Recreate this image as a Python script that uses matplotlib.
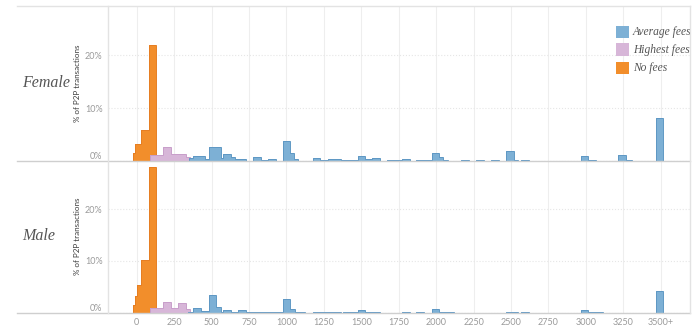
import matplotlib.pyplot as plt
from matplotlib.lines import Line2D
from matplotlib.patches import Rectangle

# ==========================================
# DATA (percent of P2P transactions, step edges in fee units)
# ==========================================
x_ticks = [0, 250, 500, 750, 1000, 1250, 1500, 1750, 2000, 2250, 2500, 2750, 3000, 3250, 3500]
x_labels = ['0', '250', '500', '750', '1000', '1250', '1500', '1750', '2000',
            '2250', '2500', '2750', '3000', '3250', '3500+']
series_names = ['Average fees', 'Highest fees', 'No fees']
panel_names = ['Female', 'Male']

# Female
f_orange_edges = [-25, -10, 30, 80, 128]
f_orange_pct = [1.5, 3.3, 5.9, 21.9]
f_pink_edges = [88, 178, 229, 278, 327, 355]
f_pink_pct = [1.2, 2.6, 1.3, 1.4, 0.75]
f_blue_edges = [350, 375, 425, 455, 480, 560, 575, 627, 655, 730,
                777, 829, 875, 927, 977, 1027, 1050, 1077, 1177, 1227,
                1277, 1365, 1477, 1522, 1572, 1625, 1670, 1772, 1825, 1867,
                1970, 2020, 2047, 2077, 2167, 2220, 2267, 2320, 2367, 2420,
                2467, 2517, 2545, 2567, 2622, 2722, 2910, 2967, 3015, 3067,
                3167, 3217, 3267, 3311, 3367, 3415, 3467, 3517]
f_blue_pct = [0.6, 0.95, 0.9, 0.45, 2.7, 0.6, 1.3, 0.75, 0.3,
              0.05, 0.8, 0.25, 0.35, 0.08, 3.7, 1.45, 0.45, 0.06, 0.5,
              0.1, 0.45, 0.1, 1.0, 0.3, 0.5, 0.05, 0.22, 0.4, 0.0,
              0.1, 1.55, 0.8, 0.28, 0.08, 0.28, 0.08, 0.25, 0.08, 0.25,
              0.08, 1.95, 0.25, 0.05, 0.15, 0.0, 0.08, 0.0, 0.9, 0.25,
              0.0, 0.08, 1.05, 0.2, 0.0, 0.08, 0.0, 8.05]

# Male
m_orange_edges = [-25, -10, 5, 30, 80, 128]
m_orange_pct = [1.4, 3.2, 5.4, 10.2, 28.1]
m_pink_edges = [88, 178, 229, 278, 327, 355]
m_pink_pct = [1.0, 2.0, 0.9, 1.8, 0.75]
m_blue_edges = [345, 377, 429, 482, 529, 560, 578, 627, 677, 729,
                777, 929, 977, 1027, 1055, 1122, 1177, 1227, 1365, 1377,
                1477, 1527, 1627, 1771, 1827, 1867, 1922, 1971, 2022, 2122,
                2467, 2544, 2567, 2622, 2967, 3015, 3115, 3467, 3517]
m_blue_pct = [0.2, 1.0, 0.4, 3.4, 1.15, 0.2, 0.45, 0.15, 0.45,
              0.05, 0.2, 0.05, 2.65, 0.68, 0.12, 0.0, 0.22, 0.1, 0.0,
              0.1, 0.6, 0.15, 0.0, 0.15, 0.0, 0.15, 0.0, 0.7, 0.15,
              0.0, 0.2, 0.0, 0.15, 0.0, 0.45, 0.15, 0.0, 4.2]

# ==========================================
# STYLE
# ==========================================
BLUE, BLUE_EDGE = '#7db0d5', '#5f98c4'
PINK, PINK_EDGE = '#d7b6d8', '#c89fca'
ORANGE, ORANGE_EDGE = '#f28e2b', '#e67e22'
W, H = 700, 333


def fx(px):
    return px / W


def fy(py):
    return 1 - py / H


def draw_panel(ax, orange, pink, blue, show_x):
    layers = [(orange, ORANGE, ORANGE_EDGE, 2),
              (pink, PINK, PINK_EDGE, 3),
              (blue, BLUE, BLUE_EDGE, 4)]
    for (edges, vals), face, edge, z in layers:
        ax.stairs(vals, edges, fill=True, color=face, zorder=z)
        ax.stairs(vals, edges, color=edge, lw=0.7, baseline=0, zorder=z)

    ax.set_xlim(-192, 3696)
    ax.set_ylim(0, 29.3)
    ax.set_xticks(x_ticks)
    ax.set_yticks([0, 10, 20])
    ax.set_yticklabels(['0%', '10%', '20%'])
    ax.get_yticklabels()[0].set_va('bottom')
    if show_x:
        ax.set_xticklabels(x_labels)
    else:
        ax.set_xticklabels([])
    ax.tick_params(length=0, labelsize=6.5, colors='#9a9a9a', pad=4, labelfontfamily='Lato')
    ax.xaxis.grid(True, color='#eeeeee', lw=0.8)
    ax.yaxis.grid(True, color='#e6e6e6', lw=0.8, ls=':')
    ax.set_axisbelow(True)
    for s in ax.spines.values():
        s.set_visible(False)
    ax.set_facecolor('none')


fig = plt.figure(figsize=(7, 3.33), dpi=100)

ax_f = fig.add_axes([fx(108), fy(161), fx(690) - fx(108), (161 - 6) / H])
ax_m = fig.add_axes([fx(108), fy(312.7), fx(690) - fx(108), (312.7 - 161) / H])

draw_panel(ax_f, (f_orange_edges, f_orange_pct), (f_pink_edges, f_pink_pct),
           (f_blue_edges, f_blue_pct), show_x=False)
draw_panel(ax_m, (m_orange_edges, m_orange_pct), (m_pink_edges, m_pink_pct),
           (m_blue_edges, m_blue_pct), show_x=True)

# frame lines
for py, col in [(6, '#e3e3e3'), (161, '#cfcfcf'), (312.7, '#cfcfcf')]:
    fig.add_artist(Line2D([fx(17), fx(690)], [fy(py), fy(py)], color=col, lw=1,
                          transform=fig.transFigure, zorder=5))
for px in [108, 690]:
    fig.add_artist(Line2D([fx(px), fx(px)], [fy(6), fy(312.7)], color='#e3e3e3', lw=1,
                          transform=fig.transFigure, zorder=5))

# row headers and axis titles
for name, cy in zip(panel_names, [83, 236]):
    fig.text(fx(22), fy(cy), name, fontsize=11.5, family='Liberation Serif',
             style='italic', color='#555555', va='center', ha='left')
    fig.text(fx(78), fy(cy), '% of P2P transactions', fontsize=5.8, family='Lato',
             rotation=90, color='#3a3a3a', va='center', ha='center')

# legend
for name, col, cy in zip(series_names, [BLUE, PINK, ORANGE], [31.7, 49.5, 68]):
    fig.add_artist(Rectangle((fx(616), fy(cy + 6.3)), 12.5 / W, 12.5 / H,
                             facecolor=col, edgecolor='none', transform=fig.transFigure))
    fig.text(fx(633), fy(cy), name, fontsize=8.3, family='Liberation Serif',
             style='italic', color='#555555', va='center', ha='left')

fig.savefig('out.png', dpi=100)
